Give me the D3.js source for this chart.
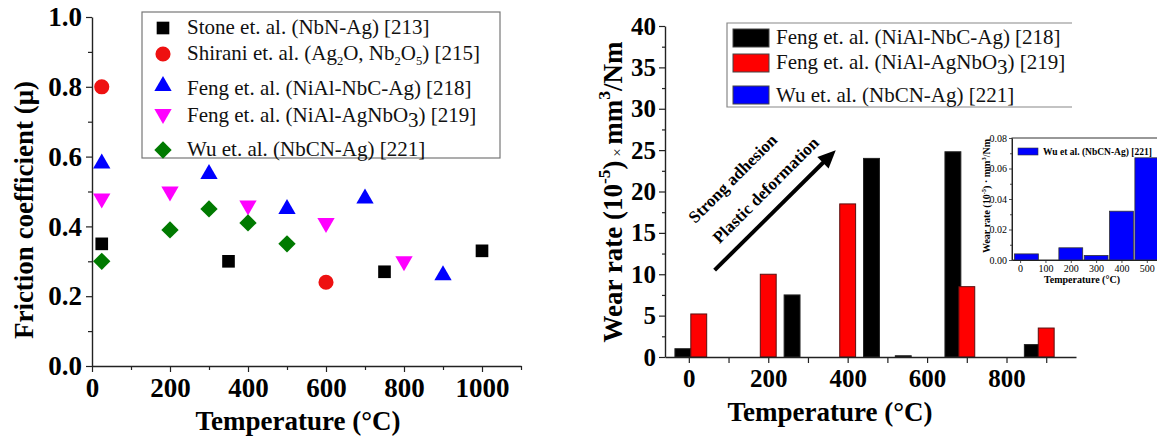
<!DOCTYPE html>
<html>
<head>
<meta charset="utf-8">
<script src="https://cdn.jsdelivr.net/npm/d3@7"></script>
<style>
  body { margin: 0; background: #fff; }
  svg { display: block; }
  text { font-family: "Liberation Serif", "Times New Roman", serif; }
</style>
</head>
<body>
<div id="chart"></div>
<script>
// ---- left panel: friction coefficient vs temperature
const stoneT = [25, 350, 750, 1000];
const stoneMu = [0.35, 0.30, 0.27, 0.33];
const shiraniT = [25, 600];
const shiraniMu = [0.80, 0.24];
const fengNbcT = [25, 300, 500, 700, 900];
const fengNbcMu = [0.58, 0.55, 0.45, 0.48, 0.26];
const fengAgT = [25, 200, 400, 600, 800];
const fengAgMu = [0.48, 0.50, 0.46, 0.41, 0.30];
const wuT = [25, 200, 300, 400, 500];
const wuMu = [0.30, 0.39, 0.45, 0.41, 0.35];

const muTicks = [0, 0.2, 0.4, 0.6, 0.8, 1.0];
const muMinor = [0.1, 0.3, 0.5, 0.7, 0.9];
const tempTicksL = [0, 200, 400, 600, 800, 1000];
const tempMinorL = [100, 300, 500, 700, 900, 1100];

// ---- right panel: wear rate bars (positions)
const nbcBarT = [-15, 260, 460, 540, 665, 865];
const nbcWear = [1.0, 7.5, 24.0, 0.15, 24.8, 1.5];
const agnbBarT = [25, 200, 400, 700, 900];
const agnbWear = [5.2, 10.0, 18.5, 8.5, 3.5];

const wearTicks = [0, 5, 10, 15, 20, 25, 30, 35, 40];
const wearMinor = [2.5, 7.5, 12.5, 17.5, 22.5, 27.5, 32.5, 37.5];
const tempTicksR = [0, 200, 400, 600, 800];
const tempMinorR = [100, 300, 500, 700, 900];

// ---- inset: Wu et al. wear rate
const wuBarT = [25, 200, 300, 400, 500];
const wuWear = [0.004, 0.008, 0.003, 0.032, 0.067];
const insetYTicks = [0, 0.02, 0.04, 0.06, 0.08];
const insetYMinor = [0.01, 0.03, 0.05, 0.07];
const insetXTicks = [0, 100, 200, 300, 400, 500];

const W = 1157, H = 441;
const svg = d3.select("#chart").append("svg")
    .attr("width", W).attr("height", H);
svg.append("rect").attr("width", W).attr("height", H).attr("fill", "#fff");

// helper: axis with major + minor ticks
function axis(g, orient, scale, major, minor, fmt, fontSize, tick, minorTick, pad) {
    const mk = orient === "bottom" ? d3.axisBottom : d3.axisLeft;
    g.append("g").call(mk(scale).tickValues(minor).tickFormat("").tickSize(minorTick).tickSizeOuter(0))
        .call(s => s.select(".domain").remove());
    const a = g.append("g").call(mk(scale).tickValues(major).tickFormat(fmt)
        .tickSize(tick).tickSizeOuter(0).tickPadding(pad));
    g.selectAll("line").attr("stroke", "#222").attr("stroke-width", 1.2);
    a.select(".domain").attr("stroke", "#222").attr("stroke-width", 1.4);
    a.selectAll("text").attr("font-size", fontSize).attr("font-weight", "bold")
        .attr("font-family", "'Liberation Serif', serif").attr("fill", "#000");
    return a;
}

// ================= LEFT PANEL =================
const xL = d3.scaleLinear().domain([0, 1100]).range([92, 521]);
const yL = d3.scaleLinear().domain([0, 1]).range([366, 17]);

axis(svg.append("g").attr("transform", "translate(0,366)"), "bottom", xL,
    tempTicksL, tempMinorL, d3.format("d"), 27, 6, 4, 6);
axis(svg.append("g").attr("transform", "translate(92,0)"), "left", yL,
    muTicks, muMinor, d3.format(".1f"), 27, 6, 4, 4);

svg.append("text").attr("x", 298).attr("y", 430).attr("text-anchor", "middle")
    .attr("font-size", 27).attr("font-weight", "bold").text("Temperature (°C)");
svg.append("text").attr("transform", "translate(33,210) rotate(-90)")
    .attr("text-anchor", "middle").attr("font-size", 27).attr("font-weight", "bold")
    .text("Friction coefficient (μ)");

const seriesL = [
    { t: stoneT, v: stoneMu, color: "#000", sym: d3.symbolSquare, size: 160, rot: 0 },
    { t: shiraniT, v: shiraniMu, color: "#ee1111", sym: d3.symbolCircle, size: 180, rot: 0 },
    { t: fengNbcT, v: fengNbcMu, color: "#0000ff", sym: d3.symbolTriangle, size: 130, rot: 0 },
    { t: fengAgT, v: fengAgMu, color: "#ff00ff", sym: d3.symbolTriangle, size: 130, rot: 180 },
    { t: wuT, v: wuMu, color: "#007a00", sym: d3.symbolSquare, size: 150, rot: 45 }
];

seriesL.forEach(s => {
    const path = d3.symbol().type(s.sym).size(s.size)();
    svg.append("g").selectAll("path")
        .data(s.t.map((t, i) => [t, s.v[i]]))
        .enter().append("path")
        .attr("d", path)
        .attr("fill", s.color)
        .attr("transform", d => `translate(${xL(d[0])},${yL(d[1])}) rotate(${s.rot})`);
});

// left legend
const legL = svg.append("g");
legL.append("rect").attr("x", 142).attr("y", 12).attr("width", 358).attr("height", 146)
    .attr("fill", "#fff").attr("stroke", "#777").attr("stroke-width", 1.2);
const legLLabels = [
    [["Stone et. al. (NbN-Ag) [213]"]],
    [["Shirani et. al. (Ag"], ["2", "sub"], ["O, Nb"], ["2", "sub"], ["O"], ["5", "sub"], [") [215]"]],
    [["Feng et. al. (NiAl-NbC-Ag) [218]"]],
    [["Feng et. al. (NiAl-AgNbO"], ["3", "low"], [") [219]"]],
    [["Wu et. al. (NbCN-Ag) [221]"]]
];
const legLMarkY = [28, 54, 86, 114, 150];
const legLTextY = [34, 60, 95, 122, 156];

function richText(sel, parts, size) {
    parts.forEach(p => {
        const ts = sel.append("tspan").text(p[0]);
        if (p[1] === "sub") ts.attr("font-size", size * 0.6).attr("dy", 5);
        else if (p[1] === "low") ts.attr("dy", 5);
        else if (p[1] === "sup") ts.attr("font-size", size * 0.65).attr("dy", -size * 0.45);
        else if (p[1] === "small") ts.attr("font-size", size * 0.55).attr("font-weight", "normal");
        // reset baseline after shifted spans
        if (p[1] === "sub" || p[1] === "low") ts.attr("data-s", 1);
    });
    // undo shifts
    let shift = 0;
    sel.selectAll("tspan").each(function (d, i) {
        const p = parts[i];
        const el = d3.select(this);
        let dy = 0;
        if (p[1] === "sub" || p[1] === "low") dy = 5;
        else if (p[1] === "sup") dy = -size * 0.45;
        el.attr("dy", dy - shift);
        shift = dy;
    });
}

seriesL.forEach((s, i) => {
    const path = d3.symbol().type(s.sym).size(s.size)();
    legL.append("path").attr("d", path).attr("fill", s.color)
        .attr("transform", `translate(163,${legLMarkY[i]}) rotate(${s.rot})`);
    const t = legL.append("text").attr("x", 187).attr("y", legLTextY[i])
        .attr("font-size", 21).attr("fill", "#111");
    richText(t, legLLabels[i], 21);
});

// ================= RIGHT PANEL =================
const xR = d3.scaleLinear().domain([-60, 975]).range([665, 1076]);
const yR = d3.scaleLinear().domain([0, 40]).range([357, 26]);
const barW = xR(40) - xR(0);

svg.append("g").selectAll("rect")
    .data(nbcBarT.map((t, i) => [t, nbcWear[i]]))
    .enter().append("rect")
    .attr("x", d => xR(d[0]) - barW / 2)
    .attr("y", d => yR(d[1]))
    .attr("width", barW)
    .attr("height", d => yR(0) - yR(d[1]))
    .attr("fill", "#000").attr("stroke", "#222").attr("stroke-width", 1);

svg.append("g").selectAll("rect")
    .data(agnbBarT.map((t, i) => [t, agnbWear[i]]))
    .enter().append("rect")
    .attr("x", d => xR(d[0]) - barW / 2)
    .attr("y", d => yR(d[1]))
    .attr("width", barW)
    .attr("height", d => yR(0) - yR(d[1]))
    .attr("fill", "#ff0000").attr("stroke", "#5a1010").attr("stroke-width", 1);

axis(svg.append("g").attr("transform", "translate(0,357)"), "bottom", xR,
    tempTicksR, tempMinorR, d3.format("d"), 25, 6, 6, 6);
axis(svg.append("g").attr("transform", "translate(665,0)"), "left", yR,
    wearTicks, wearMinor, d3.format("d"), 25, 6, 3, 3);

svg.append("text").attr("x", 830).attr("y", 421).attr("text-anchor", "middle")
    .attr("font-size", 27).attr("font-weight", "bold").text("Temperature (°C)");
const yTitleR = svg.append("text").attr("transform", "translate(622,192) rotate(-90)")
    .attr("text-anchor", "middle").attr("font-size", 27).attr("font-weight", "bold");
richText(yTitleR, [["Wear rate (10"], ["-5", "sup"], [")"], [" × ", "small"], ["mm"], ["3", "sup"], ["/Nm"]], 27);

// annotation arrow
const a0 = [xR(65), yR(10.5)], a1 = [xR(370), yR(25)];
const ang = Math.atan2(a1[1] - a0[1], a1[0] - a0[0]);
const headL = 18, headW = 8;
const lineEnd = [a1[0] - Math.cos(ang) * headL * 0.8, a1[1] - Math.sin(ang) * headL * 0.8];
svg.append("line").attr("x1", a0[0]).attr("y1", a0[1]).attr("x2", lineEnd[0]).attr("y2", lineEnd[1])
    .attr("stroke", "#000").attr("stroke-width", 4);
const bx = a1[0] - Math.cos(ang) * headL, by = a1[1] - Math.sin(ang) * headL;
svg.append("polygon").attr("fill", "#000").attr("points", [
    a1,
    [bx + Math.sin(ang) * headW, by - Math.cos(ang) * headW],
    [bx - Math.sin(ang) * headW, by + Math.cos(ang) * headW]
].map(p => p.join(",")).join(" "));

svg.append("text").attr("transform", `translate(${xR(110)},${yR(21.6)}) rotate(-45)`)
    .attr("text-anchor", "middle").attr("font-size", 17).attr("font-weight", "bold")
    .attr("dy", "0.35em").text("Strong adhesion");
svg.append("text").attr("transform", `translate(${xR(193)},${yR(20.2)}) rotate(-45)`)
    .attr("text-anchor", "middle").attr("font-size", 17).attr("font-weight", "bold")
    .attr("dy", "0.35em").text("Plastic deformation");

// right legend
const legR = svg.append("g");
legR.append("path").attr("d", "M1072,23H727V107H1072").attr("fill", "none")
    .attr("stroke", "#888").attr("stroke-width", 1.2);
const legRColors = ["#000", "#ff0000", "#0000ff"];
const legRSwY = [29, 54, 86];
const legRTextY = [44, 69, 102];
const legRLabels = [
    [["Feng et. al. (NiAl-NbC-Ag) [218]"]],
    [["Feng et. al. (NiAl-AgNbO"], ["3", "low"], [") [219]"]],
    [["Wu et. al. (NbCN-Ag) [221]"]]
];
legRColors.forEach((c, i) => {
    legR.append("rect").attr("x", 733).attr("y", legRSwY[i]).attr("width", 36).attr("height", 18)
        .attr("fill", c).attr("stroke", "#444").attr("stroke-width", 1);
    const t = legR.append("text").attr("x", 776).attr("y", legRTextY[i])
        .attr("font-size", 21).attr("fill", "#111");
    richText(t, legRLabels[i], 21);
});

// ================= INSET =================
const xI = d3.scaleLinear().domain([-32, 560]).range([1012, 1162]);
const yI = d3.scaleLinear().domain([0, 0.08]).range([260, 138]);
const barWI = xI(94) - xI(0);
const ins = svg.append("g");
ins.append("rect").attr("x", 1012).attr("y", 138).attr("width", 160).attr("height", 122)
    .attr("fill", "#fff").attr("stroke", "#333").attr("stroke-width", 1);
ins.append("g").selectAll("rect")
    .data(wuBarT.map((t, i) => [t, wuWear[i]]))
    .enter().append("rect")
    .attr("x", d => xI(d[0]) - barWI / 2)
    .attr("y", d => yI(d[1]))
    .attr("width", barWI)
    .attr("height", d => yI(0) - yI(d[1]))
    .attr("fill", "#0000ff").attr("stroke", "#333").attr("stroke-width", 0.8);

const ixa = axis(ins.append("g").attr("transform", "translate(0,260)"), "bottom", xI,
    insetXTicks, [], d3.format("d"), 10, 3, 0, 2);
const iya = axis(ins.append("g").attr("transform", "translate(1012,0)"), "left", yI,
    insetYTicks, insetYMinor, d3.format(".2f"), 10, 3, 2, 2);
ins.selectAll("text").attr("font-weight", "normal");
ins.selectAll("line").attr("stroke-width", 0.8);
ins.selectAll(".domain").attr("stroke-width", 1);

ins.append("text").attr("x", 1082).attr("y", 283).attr("text-anchor", "middle")
    .attr("font-size", 10).attr("font-weight", "bold").text("Temperature (°C)");
const iyt = ins.append("text").attr("transform", "translate(990,196) rotate(-90)")
    .attr("text-anchor", "middle").attr("font-size", 10).attr("font-weight", "bold");
richText(iyt, [["Wear rate (10"], ["-5", "sup"], [") · mm"], ["3", "sup"], ["/Nm"]], 10);

ins.append("rect").attr("x", 1018).attr("y", 148).attr("width", 20).attr("height", 7)
    .attr("fill", "#0000ff").attr("stroke", "#333").attr("stroke-width", 0.6);
ins.append("text").attr("x", 1043).attr("y", 155).attr("font-size", 9.5)
    .attr("font-weight", "bold").text("Wu et al. (NbCN-Ag) [221]");
</script>
</body>
</html>
